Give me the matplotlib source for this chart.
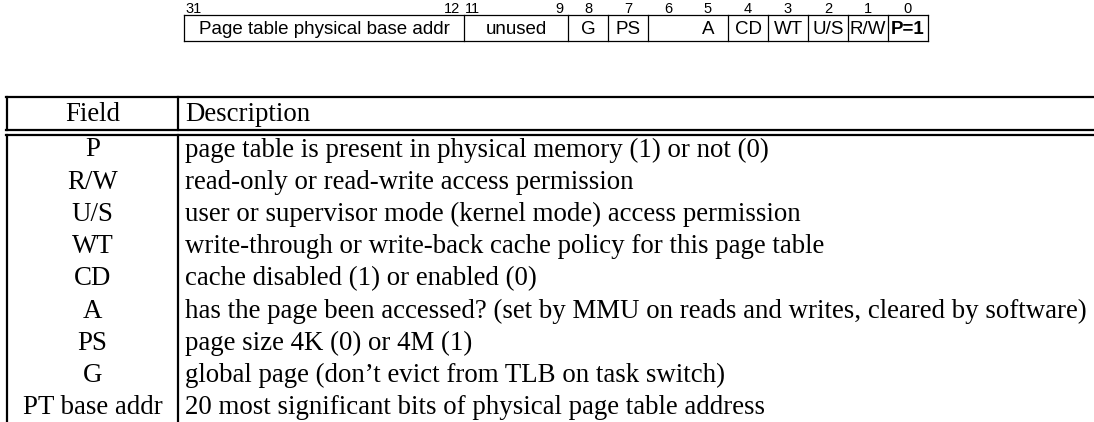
import matplotlib.pyplot as plt

# bit layout of the page directory entry
field_names = ['Page table physical base addr', 'unused', 'G', 'PS', '', 'A',
               'CD', 'WT', 'U/S', 'R/W', 'P=1']
field_hi = [31, 11, 8, 7, 6, 5, 4, 3, 2, 1, 0]
field_lo = [12, 9, 8, 7, 6, 5, 4, 3, 2, 1, 0]

# table rows
col_headers = ['Field', 'Description']
fields = ['P', 'R/W', 'U/S', 'WT', 'CD', 'A', 'PS', 'G', 'PT base addr']
descriptions = [
    'page table is present in physical memory (1) or not (0)',
    'read-only or read-write access permission',
    'user or supervisor mode (kernel mode) access permission',
    'write-through or write-back cache policy for this page table',
    'cache disabled (1) or enabled (0)',
    'has the page been accessed? (set by MMU on reads and writes, cleared by software)',
    'page size 4K (0) or 4M (1)',
    'global page (don\u2019t evict from TLB on task switch)',
    '20 most significant bits of physical page table address',
]

W, H = 1094, 422
fig = plt.figure(figsize=(W / 100, H / 100), dpi=100)
ax = fig.add_axes([0, 0, 1, 1])
ax.set_xlim(0, W)
ax.set_ylim(H, 0)
ax.axis('off')

sans = 'Liberation Sans'
serif = 'Liberation Serif'

# ---- register diagram ----
# x edges of each field (pixels)
edges = [184, 464, 568, 608, 648, 688, 728, 768, 808, 848, 888, 928]
box_top, box_bot = 15, 41
ax.plot([edges[0], edges[-1]], [box_top, box_top], color='k', lw=0.9)
ax.plot([edges[0], edges[-1]], [box_bot, box_bot], color='k', lw=0.9)
for i, x in enumerate(edges):
    if i == 5:  # no divider between bit 6 and bit 5
        continue
    ax.plot([x, x], [box_top, box_bot], color='k', lw=0.9)

for i, name in enumerate(field_names):
    x0, x1 = edges[i], edges[i + 1]
    ax.text((x0 + x1) / 2, (box_top + box_bot) / 2 + 1, name, ha='center',
            va='center', fontsize=13.5, family=sans,
            fontweight='bold' if name.startswith('P=') else 'normal')
    if field_hi[i] == field_lo[i]:
        ax.text((x0 + x1) / 2, box_top - 2, str(field_hi[i]), ha='center',
                va='baseline', fontsize=10.5, family=sans)
    else:
        ax.text(x0 + 1, box_top - 2, str(field_hi[i]), ha='left',
                va='baseline', fontsize=10.5, family=sans)
        ax.text(x1 - 4, box_top - 2, str(field_lo[i]), ha='right',
                va='baseline', fontsize=10.5, family=sans)

# ---- table ----
left, sep = 7, 178
top = 97
dbl1, dbl2 = 130, 135
lw = 1.6
ax.plot([left - 1, W], [top, top], color='k', lw=lw)
ax.plot([left - 1, W], [dbl1, dbl1], color='k', lw=lw)
ax.plot([left - 1, W], [dbl2, dbl2], color='k', lw=lw)
for x in (left, sep):
    ax.plot([x, x], [top, dbl1], color='k', lw=lw)
    ax.plot([x, x], [dbl2, H], color='k', lw=lw)

fs = 19.4
ax.text((left + sep) / 2, (top + dbl1) / 2 + 1, col_headers[0], ha='center',
        va='center', fontsize=fs, family=serif)
ax.text(sep + 7, (top + dbl1) / 2 + 1, col_headers[1], ha='left',
        va='center', fontsize=fs, family=serif)

row0, step = 150, 32.2
for i, (f, d) in enumerate(zip(fields, descriptions)):
    y = row0 + i * step
    ax.text((left + sep) / 2, y, f, ha='center', va='center',
            fontsize=fs, family=serif)
    ax.text(sep + 7, y, d, ha='left', va='center', fontsize=fs, family=serif)

fig.savefig('out.png', dpi=100)
